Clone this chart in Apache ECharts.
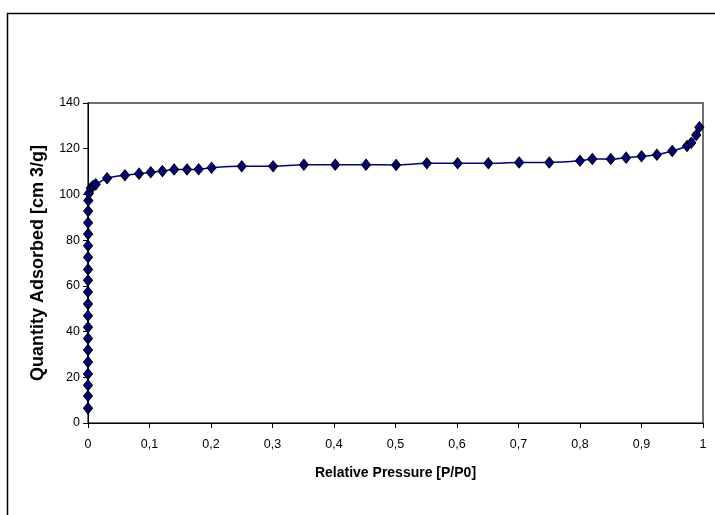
<!DOCTYPE html>
<html>
<head>
<meta charset="utf-8">
<script src="https://cdn.jsdelivr.net/npm/echarts@6/dist/echarts.min.js"></script>
<style>
html,body{margin:0;padding:0;background:#fff;}
#chart{width:715px;height:515px;}
</style>
</head>
<body>
<div id="chart"></div>
<script>
// Relative pressure P/P0 (x) and quantity adsorbed cm3/g (y)
const pressure = [
  0.0000, 0.0000, 0.0000, 0.0000, 0.0000, 0.0000, 0.0000, 0.0000, 0.0000, 0.0000,
  0.0000, 0.0000, 0.0001, 0.0001, 0.0001, 0.0002, 0.0002, 0.0003, 0.0005, 0.0016,
  0.0044, 0.0080, 0.0126, 0.031, 0.060, 0.083, 0.102, 0.121, 0.140, 0.161,
  0.180, 0.201, 0.250, 0.301, 0.351, 0.402, 0.452, 0.501, 0.551, 0.601,
  0.651, 0.701, 0.750, 0.800, 0.820, 0.850, 0.875, 0.900, 0.925, 0.950,
  0.974, 0.981, 0.989, 0.994
];
const quantity = [
  6.4, 11.8, 16.5, 21.4, 26.7, 31.9, 37.0, 41.9, 46.9, 52.1,
  57.3, 62.4, 67.2, 72.5, 77.6, 82.7, 87.6, 92.7, 97.3, 100.5,
  102.7, 103.7, 104.4, 107.1, 108.4, 109.1, 109.7, 110.2, 110.9, 110.9,
  111.0, 111.7, 112.3, 112.3, 113.0, 113.0, 113.0, 112.9, 113.6, 113.6,
  113.6, 114.0, 114.0, 114.7, 115.5, 115.5, 116.1, 116.7, 117.4, 119.0,
  121.2, 122.6, 126.0, 129.4
];
const xTicks = ['0','0,1','0,2','0,3','0,4','0,5','0,6','0,7','0,8','0,9','1'];
const xName = 'Relative Pressure [P/P0]';
const yName = 'Quantity Adsorbed [cm 3/g]';

function fontAvailable(name) {
  const ctx = document.createElement('canvas').getContext('2d');
  const s = 'Relative Pressure 0,123456789';
  ctx.font = '40px monospace';
  const a = ctx.measureText(s).width;
  ctx.font = "40px '" + name + "', monospace";
  const b = ctx.measureText(s).width;
  ctx.font = '40px serif';
  const c = ctx.measureText(s).width;
  ctx.font = "40px '" + name + "', serif";
  const d = ctx.measureText(s).width;
  return a !== b || c !== d;
}
const narrow = fontAvailable('Liberation Sans Narrow');
const tickFont = narrow ? "'Liberation Sans Narrow'" : "'Liberation Sans'";
const tickSize = narrow ? 15.5 : 12.5;
const xNameSize = narrow ? 17 : 14;

const data = pressure.map((p, i) => [p, quantity[i]]);

const chart = echarts.init(document.getElementById('chart'), null, {renderer: 'canvas'});
chart.setOption({
  animation: false,
  backgroundColor: '#ffffff',
  graphic: [{
    type: 'rect',
    silent: true,
    shape: {x: 7.5, y: 13.5, width: 740, height: 540},
    style: {fill: 'none', stroke: '#000', lineWidth: 1.5}
  }],
  grid: {
    left: 88, right: 12, top: 103, bottom: 92,
    show: true, borderColor: '#404040', borderWidth: 1.5, backgroundColor: 'transparent'
  },
  xAxis: {
    type: 'value', min: 0, max: 1, interval: 0.1,
    name: xName, nameLocation: 'middle', nameGap: 43,
    nameTextStyle: {fontFamily: tickFont, fontWeight: 'bold', fontSize: xNameSize, color: '#000'},
    axisLine: {show: true, lineStyle: {color: '#000', width: 1}},
    axisTick: {show: true, length: 5, inside: false, lineStyle: {color: '#000'}},
    splitLine: {show: false},
    axisLabel: {
      margin: 15, color: '#000', fontFamily: tickFont, fontSize: tickSize,
      formatter: function (v) { return xTicks[Math.round(v * 10)]; }
    }
  },
  yAxis: {
    type: 'value', min: 0, max: 140, interval: 20,
    name: yName, nameLocation: 'middle', nameGap: 41, nameRotate: 90,
    nameTextStyle: {fontFamily: 'Liberation Sans', fontWeight: 'bold', fontSize: 18, color: '#000'},
    axisLine: {show: true, lineStyle: {color: '#000', width: 1}},
    axisTick: {show: true, length: 5, inside: false, lineStyle: {color: '#000'}},
    splitLine: {show: false},
    axisLabel: {margin: 8, color: '#000', fontFamily: tickFont, fontSize: tickSize}
  },
  series: [{
    type: 'line',
    data: data,
    smooth: 0.3,
    symbol: 'diamond',
    symbolSize: [9, 11],
    showAllSymbol: true,
    lineStyle: {color: '#000080', width: 1.5},
    itemStyle: {color: '#000080', borderColor: '#000', borderWidth: 1}
  }]
});
</script>
</body>
</html>
